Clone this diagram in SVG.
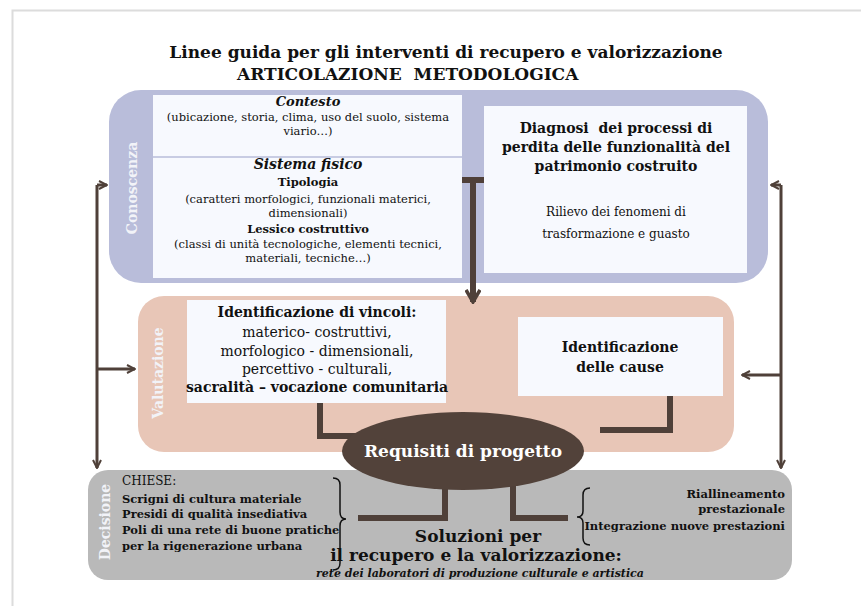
<svg xmlns="http://www.w3.org/2000/svg" width="861" height="606" viewBox="0 0 861 606">
<defs>
<marker id="ah" viewBox="0 0 10 10" refX="9" refY="5" markerWidth="10" markerHeight="10" markerUnits="userSpaceOnUse" orient="auto">
<path d="M1,1 L9,5 L1,9" fill="none" stroke="#4f4039" stroke-width="2"/>
</marker>
<marker id="ahBig" viewBox="0 0 16 16" refX="14" refY="8" markerWidth="16" markerHeight="16" markerUnits="userSpaceOnUse" orient="auto">
<path d="M2,1 L14,8 L2,15" fill="none" stroke="#4f4039" stroke-width="3.5"/>
</marker>
<style>
.t{font-family:"DejaVu Serif","Liberation Serif",serif;fill:#111;white-space:pre}
.b{font-weight:bold}
.i{font-style:italic}
.c{text-anchor:middle}
.r{text-anchor:end}
.side{font-family:"DejaVu Serif","Liberation Serif",serif;font-weight:bold;font-size:14px;fill:#f2f3f8;text-anchor:middle}
.wb{fill:#f7f9fe}
.ln{fill:none;stroke:#4f4039;stroke-width:6}
.thin{fill:none;stroke:#4f4039;stroke-width:3}
</style>
</defs>
<rect width="861" height="606" fill="#ffffff"/>
<path d="M12.5,606 V10.5 H861" fill="none" stroke="#dcdcdc" stroke-width="2"/>

<g id="title">
<text class="t b c" x="446" y="58" font-size="17">Linee guida per gli interventi di recupero e valorizzazione</text>
<text class="t b" x="237" y="80" font-size="17" xml:space="preserve">ARTICOLAZIONE  METODOLOGICA</text>
</g>

<g id="conoscenza">
<rect x="109" y="90" width="659" height="193" rx="32" fill="#b9bdda"/>
<text class="side" transform="translate(137,188) rotate(-90)">Conoscenza</text>
</g>

<g id="contesto">
<rect class="wb" x="153" y="95" width="309" height="183"/>
<line x1="153" y1="157" x2="462" y2="157" stroke="#b9bdda" stroke-width="1.5"/>
<text class="t b i c" x="308" y="106" font-size="13">Contesto</text>
<text class="t c" x="308" y="121" font-size="11.5">(ubicazione, storia, clima, uso del suolo, sistema</text>
<text class="t c" x="308" y="135" font-size="11.5">viario…)</text>
<text class="t b i c" x="308" y="169" font-size="14">Sistema fisico</text>
<text class="t b c" x="308" y="186" font-size="11.5">Tipologia</text>
<text class="t c" x="308" y="203" font-size="11.5">(caratteri morfologici, funzionali materici,</text>
<text class="t c" x="308" y="217" font-size="11.5">dimensionali)</text>
<text class="t b c" x="308" y="233" font-size="11.5">Lessico costruttivo</text>
<text class="t c" x="308" y="248" font-size="11.5">(classi di unità tecnologiche, elementi tecnici,</text>
<text class="t c" x="308" y="262" font-size="11.5">materiali, tecniche…)</text>
</g>

<g id="diagnosi">
<rect class="wb" x="484" y="106" width="263" height="167"/>
<text class="t b c" x="616" y="133" font-size="14" xml:space="preserve">Diagnosi  dei processi di</text>
<text class="t b c" x="616" y="152" font-size="14">perdita delle funzionalità del</text>
<text class="t b c" x="616" y="171" font-size="14">patrimonio costruito</text>
<text class="t c" x="616" y="216" font-size="12" fill="#222">Rilievo dei fenomeni di</text>
<text class="t c" x="616" y="238" font-size="12" fill="#222">trasformazione e guasto</text>
</g>

<g id="valutazione">
<rect x="138" y="296" width="596" height="156" rx="26" fill="#e8c6b7"/>
<text class="side" transform="translate(163,373) rotate(-90)">Valutazione</text>
</g>

<g id="vincoli">
<rect class="wb" x="187" y="300" width="259" height="103"/>
<text class="t b c" x="317" y="317" font-size="14">Identificazione di vincoli:</text>
<text class="t c" x="317" y="337" font-size="14">materico- costruttivi,</text>
<text class="t c" x="317" y="356" font-size="14">morfologico - dimensionali,</text>
<text class="t c" x="317" y="374" font-size="14">percettivo - culturali,</text>
<text class="t b c" x="317" y="392" font-size="14">sacralità – vocazione comunitaria</text>
</g>

<g id="cause">
<rect class="wb" x="518" y="317" width="205" height="79"/>
<text class="t b c" x="620" y="352" font-size="14">Identificazione</text>
<text class="t b c" x="620" y="372" font-size="14">delle cause</text>
</g>

<g id="decisione">
<rect x="88" y="470" width="704" height="110" rx="20" fill="#b9b9b9"/>
<text class="side" transform="translate(110,522) rotate(-90)">Decisione</text>
<text class="t" x="122" y="485" font-size="12" fill="#222">CHIESE:</text>
<text class="t b" x="122" y="503" font-size="11.5">Scrigni di cultura materiale</text>
<text class="t b" x="122" y="518" font-size="11.5">Presidi di qualità insediativa</text>
<text class="t b" x="122" y="534" font-size="11.5">Poli di una rete di buone pratiche</text>
<text class="t b" x="122" y="550" font-size="11.5">per la rigenerazione urbana</text>
<text class="t b r" x="785" y="498" font-size="11.5">Riallineamento</text>
<text class="t b r" x="785" y="513" font-size="11.5">prestazionale</text>
<text class="t b r" x="785" y="530" font-size="11.5">Integrazione nuove prestazioni</text>
<text class="t b c" x="478" y="542" font-size="17">Soluzioni per</text>
<text class="t b c" x="476" y="561" font-size="17">il recupero e la valorizzazione:</text>
<text class="t b i c" x="480" y="577" font-size="11">rete dei laboratori di produzione culturale e artistica</text>
</g>

<g id="connectors">
<path class="ln" d="M462,180 H484 M473,180 V302" marker-end="url(#ahBig)"/>
<path class="ln" d="M320,403 V436 H380"/>
<path class="ln" d="M670,396 V430 H600"/>
<path class="ln" d="M445,485 V518 H358"/>
<path class="ln" d="M513,485 V518 H568"/>
<path class="thin" d="M97,185 V468" marker-end="url(#ah)"/>
<path class="thin" d="M97,185 H107" marker-end="url(#ah)"/>
<path class="thin" d="M97,369 H135" marker-end="url(#ah)"/>
<path class="thin" d="M781,185 V468" marker-end="url(#ah)"/>
<path class="thin" d="M781,185 H771" marker-end="url(#ah)"/>
<path class="thin" d="M781,375 H742" marker-end="url(#ah)"/>
<path d="M333,478 Q340,478 340,485 V512 Q340,519 346,519 Q340,519 340,526 V563 Q340,570 333,570" fill="none" stroke="#111" stroke-width="1.5"/>
<path d="M590,488 Q583,488 583,495 V511 Q583,517 577,517 Q583,517 583,523 V538 Q583,545 590,545" fill="none" stroke="#111" stroke-width="1.5"/>
</g>

<g id="requisiti">
<ellipse cx="463" cy="451" rx="121" ry="39" fill="#52423a"/>
<text class="t b c" x="463" y="457" font-size="17" style="fill:#ffffff">Requisiti di progetto</text>
</g>
</svg>
